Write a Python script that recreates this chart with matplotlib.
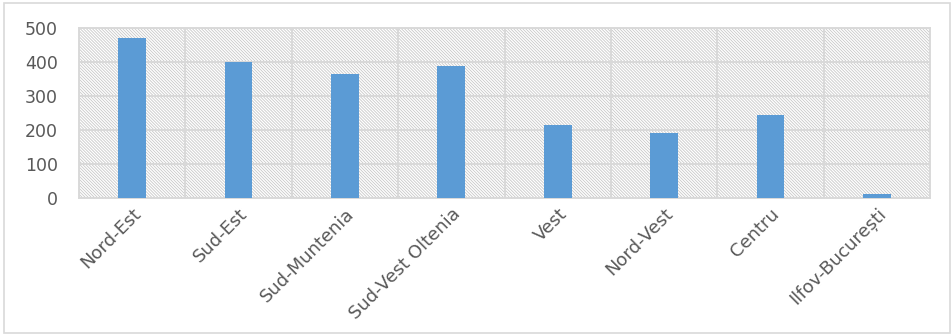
import matplotlib.pyplot as plt
from matplotlib.patches import Rectangle

regions = ["Nord-Est", "Sud-Est", "Sud-Muntenia", "Sud-Vest Oltenia",
           "Vest", "Nord-Vest", "Centru", "Ilfov-București"]
values = [472, 401, 365, 388, 214, 190, 243, 13]
yticks = [0, 100, 200, 300, 400, 500]

plt.rcParams['font.family'] = ['DejaVu Sans']
plt.rcParams['hatch.linewidth'] = 0.6

fig = plt.figure(figsize=(9.53, 3.36), dpi=100)
ax = fig.add_axes([79 / 953, 1 - 198 / 336, (930 - 79) / 953, 170 / 336])

# hatched plot area background
ax.add_patch(Rectangle((0, 0), 1, 1, transform=ax.transAxes, facecolor='white',
                       edgecolor='#c8c8c8', linewidth=0, hatch='\\' * 11, zorder=0))

x = list(range(len(regions)))
ax.bar(x, values, width=0.26, color='#5b9bd5', zorder=3)

ax.set_xlim(-0.5, len(regions) - 0.5)
ax.set_ylim(0, 500)
ax.set_yticks(yticks)
ax.set_xticks(x)
ax.set_xticklabels(regions, rotation=45, ha='right', va='top',
                   rotation_mode='anchor', fontsize=13, color='#595959')
ax.set_xticks([i - 0.5 for i in range(len(regions) + 1)], minor=True)
ax.tick_params(axis='y', labelsize=12.5, labelcolor='#595959', length=0, pad=15)
ax.tick_params(axis='x', which='both', length=0, pad=5)

ax.grid(axis='y', which='major', color='#d9d9d9', linewidth=1.4, zorder=1)
ax.grid(axis='x', which='minor', color='#d9d9d9', linewidth=1.4, zorder=1)
ax.grid(axis='x', which='major', visible=False)
ax.set_axisbelow(True)
for s in ax.spines.values():
    s.set_color('#d9d9d9')
    s.set_linewidth(1.4)

# outer chart frame
fig.patches.append(Rectangle((4 / 953, 3 / 336), 946 / 953, 330 / 336,
                             transform=fig.transFigure, fill=False,
                             edgecolor='#d9d9d9', linewidth=1.2))

fig.savefig('out.png', dpi=100)
